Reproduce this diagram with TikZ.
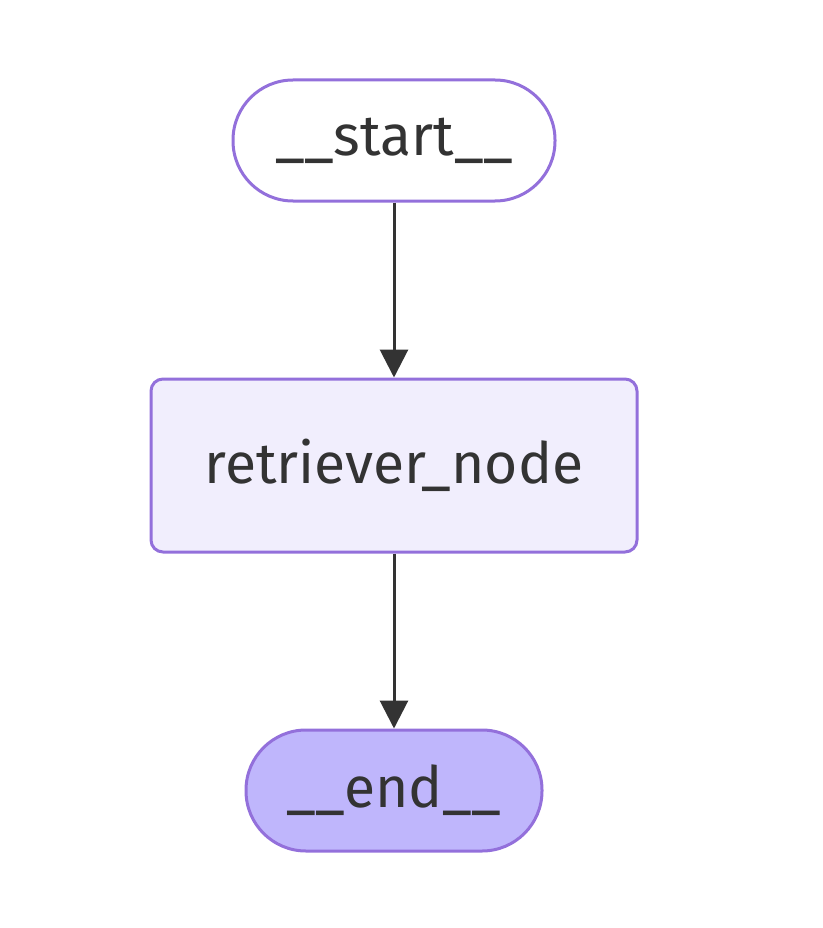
\documentclass[tikz,border=0pt]{standalone}
\usepackage{fontspec}
\setmainfont{Fira Sans}
\usetikzlibrary{arrows.meta}
\definecolor{bordc}{HTML}{9370DB}
\definecolor{procfill}{HTML}{F1EEFD}
\definecolor{endfill}{HTML}{BFB6FC}
\definecolor{txtc}{HTML}{333333}
\tikzset{
  base/.style={draw=bordc, line width=3pt, text=txtc, font=\fontsize{57}{61}\selectfont, inner sep=0pt},
  terminal/.style={base, minimum height=121pt, rounded corners=60pt},
  procbox/.style={base, fill=procfill, minimum width=486pt, minimum height=173pt, rounded corners=12pt},
  edge/.style={draw=txtc, line width=3pt, -{Triangle[length=28pt,width=28pt]}}
}
\begin{document}
\begin{tikzpicture}[x=1pt,y=-1pt]
\useasboundingbox (0,0) rectangle (822,928);
\node[terminal, fill=white, minimum width=322pt] (start) at (394,140.5) {\_\_start\_\_};
\node[procbox] (ret) at (394,465.5) {retriever\_node};
\node[terminal, fill=endfill, minimum width=296pt] (end) at (394,790.5) {\_\_end\_\_};
\draw[edge] (start) -- (ret);
\draw[edge] (ret) -- (end);
\end{tikzpicture}
\end{document}
